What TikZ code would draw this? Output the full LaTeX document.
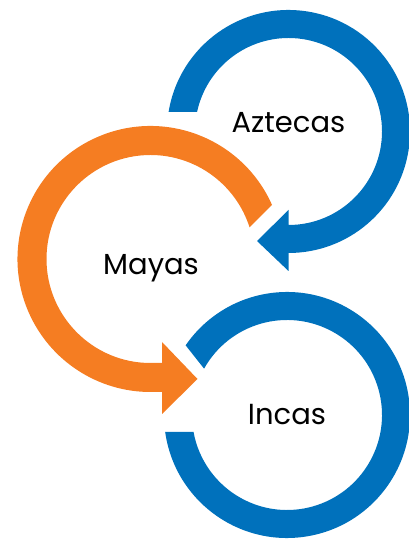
\documentclass[tikz,border=0pt]{standalone}
\usepackage{fontspec}
\setmainfont{Poppins}
\definecolor{arrowblue}{RGB}{0,113,188}
\definecolor{arroworange}{RGB}{245,125,34}
\begin{document}
\begin{tikzpicture}[x=1pt,y=1pt,
  lbl/.style={anchor=base,font=\fontsize{29}{31}\selectfont,text=black,inner sep=0pt}]
\useasboundingbox (0,0) rectangle (409,540);
% Aztecas ring (blue, top)
\fill[arrowblue] ([shift={(288.5,408.5)}]170.76:121.5)
  arc[start angle=170.76,end angle=-90,radius=121.5]
  -- (288.5,269) -- (257,299) -- (288.5,330) -- (288.5,315)
  arc[start angle=-90,end angle=167.96,radius=93.5] -- cycle;
% Mayas ring (orange, middle)
\fill[arroworange] ([shift={(150.5,281)}]24:133)
  arc[start angle=24,end angle=270,radius=133]
  -- (162,148) -- (162,126) -- (197.5,161) -- (162,198) -- (162,177) -- (150.5,177)
  arc[start angle=270,end angle=17.7,radius=104] -- cycle;
% Incas ring (blue, bottom)
\fill[arrowblue] ([shift={(287,125)}]187.94:123)
  arc[start angle=187.94,end angle=505.5,radius=123]
  -- ([shift={(287,125)}]510.8:95)
  arc[start angle=510.8,end angle=190.31,radius=95] -- cycle;
\node[lbl] (aztecas) at (288.5,407) {Aztecas};
\node[lbl] (mayas) at (151,265) {Mayas};
\node[lbl] (incas) at (287,115) {Incas};
\end{tikzpicture}
\end{document}
